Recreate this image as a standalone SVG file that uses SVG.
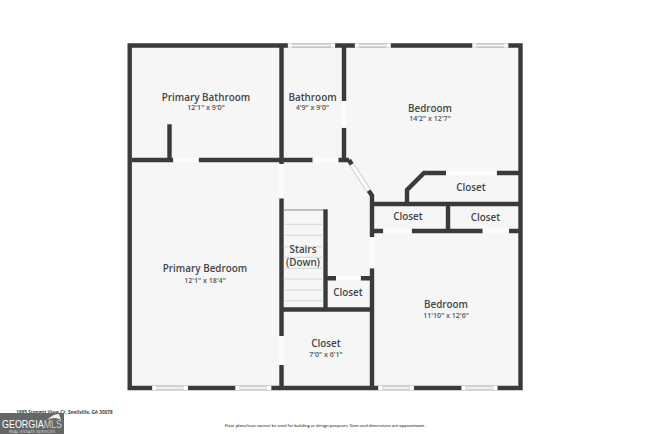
<svg xmlns="http://www.w3.org/2000/svg" width="650" height="434" viewBox="0 0 650 434">
<style>
text{font-family:"Open Sans","Noto Sans","Liberation Sans",sans-serif;fill:#444;text-anchor:middle}
.n{font-size:9.9px;font-weight:600}
.d{font-size:7.1px;font-weight:600;fill:#555}
.w{fill:none;stroke:#3a3a3a;stroke-width:4.4;stroke-linecap:butt;stroke-linejoin:miter}
.o{fill:none;stroke:#fcfcfc;stroke-width:4.4}
.t{stroke:#d6d6d6;stroke-width:1;fill:none}
.wf{fill:#f8f8f8}
.wl{stroke:#b5b5b5;stroke-width:.7;fill:none}
.wp{fill:#fff;stroke:#c8c8c8;stroke-width:.4}
</style>
<defs>
<g id="win"><rect class="wf" width="35.6" height="4.4"/><path class="wl" d="M4 .9H31.6M4 3.5H31.6"/><rect class="wp" width="4" height="4.4"/><rect class="wp" x="31.6" width="4" height="4.4"/></g>
</defs>
<rect width="650" height="434" fill="#fff"/>
<rect id="floor" x="129.7" y="45.5" width="390.8" height="342.5" fill="#f6f6f6"/>
<g id="connectors">
<path class="w" d="M129.7 45.5H520.5V388H129.7ZM132 160H173.3M198.7 160H312.7M338.3 160H349M169.5 124.3V160M281.5 45.5V164M281.5 198.3V336M281.5 365V388M344 45.5V101M344 127.7V160M349 160L351.8 164.5M368.5 190.5L372 195.5V237M372 268.3V388M372 204H520.5M407 204V190L424 173H446M496.7 173H520.5M448 204V231M372 231H383.3M411.7 231H482.7M509 231H520.5M325.5 209.3V309.5M325.5 278.3H336M360.7 278.3H372M281.5 309.5H372"/>
<path class="o" d="M173.3 160H198.7M312.7 160H338.3M281.5 164V198.3M281.5 336V365M344 101V127.7M372 237V268.3M446 173H496.7M383.3 231H411.7M482.7 231H509M336 278.3H360.7"/>
<path d="M351.8 164.5L368.5 190.5" fill="none" stroke="#fbfbfb" stroke-width="4.4"/>
<path class="wl" d="M350 165.7L366.7 191.7M353.6 163.3L370.3 189.3"/>
</g>
<g id="windows">
<rect class="wf" x="288" y="43.3" width="47" height="4.4"/><path class="wl" d="M292 44.2H331M292 46.8H331"/><rect class="wp" x="288" y="43.3" width="4" height="4.4"/><rect class="wp" x="331" y="43.3" width="4" height="4.4"/>
<use href="#win" x="355" y="43.3"/>
<use href="#win" x="472.5" y="43.3"/>
<use href="#win" x="152.3" y="385.8"/>
<use href="#win" x="235.5" y="385.8"/>
<use href="#win" x="378.3" y="385.8"/>
<use href="#win" x="461.7" y="385.8"/>
</g>
<g id="stairs">
<path class="t" d="M283.7 224.3H323.3M283.7 235.3H323.3M283.7 246.7H323.3M283.7 257.3H323.3M283.7 268.3H323.3M283.7 279H323.3M283.7 290H323.3M283.7 300.7H323.3"/>
<path d="M283.7 210H323.3" stroke="#8a8a8a" stroke-width="1" fill="none"/>
</g>
<g id="primary-bathroom"><text class="n" x="206" y="100.5">Primary Bathroom</text><text class="d" x="206" y="110">12'1" x 9'0"</text></g>
<g id="bathroom"><text class="n" x="312.5" y="100.5">Bathroom</text><text class="d" x="312.5" y="110">4'9" x 9'0"</text></g>
<g id="bedroom-1"><text class="n" x="430" y="111.5">Bedroom</text><text class="d" x="430" y="121">14'2" x 12'7"</text></g>
<g id="closet-1"><text class="n" x="471" y="190.5">Closet</text></g>
<g id="closet-2"><text class="n" x="408" y="220">Closet</text></g>
<g id="closet-3"><text class="n" x="485.5" y="221">Closet</text></g>
<g id="primary-bedroom"><text class="n" x="205" y="272">Primary Bedroom</text><text class="d" x="205" y="283">12'1" x 18'4"</text></g>
<g id="stairs-label"><text class="n" x="303" y="253">Stairs</text><text class="n" x="303" y="265.5">(Down)</text></g>
<g id="closet-4"><text class="n" x="348" y="296">Closet</text></g>
<g id="closet-5"><text class="n" x="326" y="346.5">Closet</text><text class="d" x="326" y="357">7'0" x 6'1"</text></g>
<g id="bedroom-2"><text class="n" x="446" y="307.5">Bedroom</text><text class="d" x="446" y="318">11'10" x 12'6"</text></g>
<g id="footer">
<text x="64.5" y="414" style="font-size:4.7px;font-weight:700">1885 Summit View Cr, Snellville, GA 30078</text>
<text x="325" y="426.5" style="font-size:4px;font-weight:600">Floor plans/tour cannot be used for building or design purposes. Sizes and dimensions are approximate.</text>
<rect x="0" y="413" width="64" height="21" fill="#666"/>
<path d="M47 420Q54 413 59 414L61 420Q55 416 47 420Z" fill="#eee"/>
<text x="32" y="427.5" textLength="60" lengthAdjust="spacingAndGlyphs" style="font-size:10px;fill:#fff;font-family:'Liberation Sans',sans-serif">GEORGIA<tspan fill="#ccc">MLS</tspan></text>
<text x="32" y="432.5" textLength="46" lengthAdjust="spacingAndGlyphs" style="font-size:3.2px;fill:#ddd">REAL ESTATE SERVICES</text>
</g>
</svg>
